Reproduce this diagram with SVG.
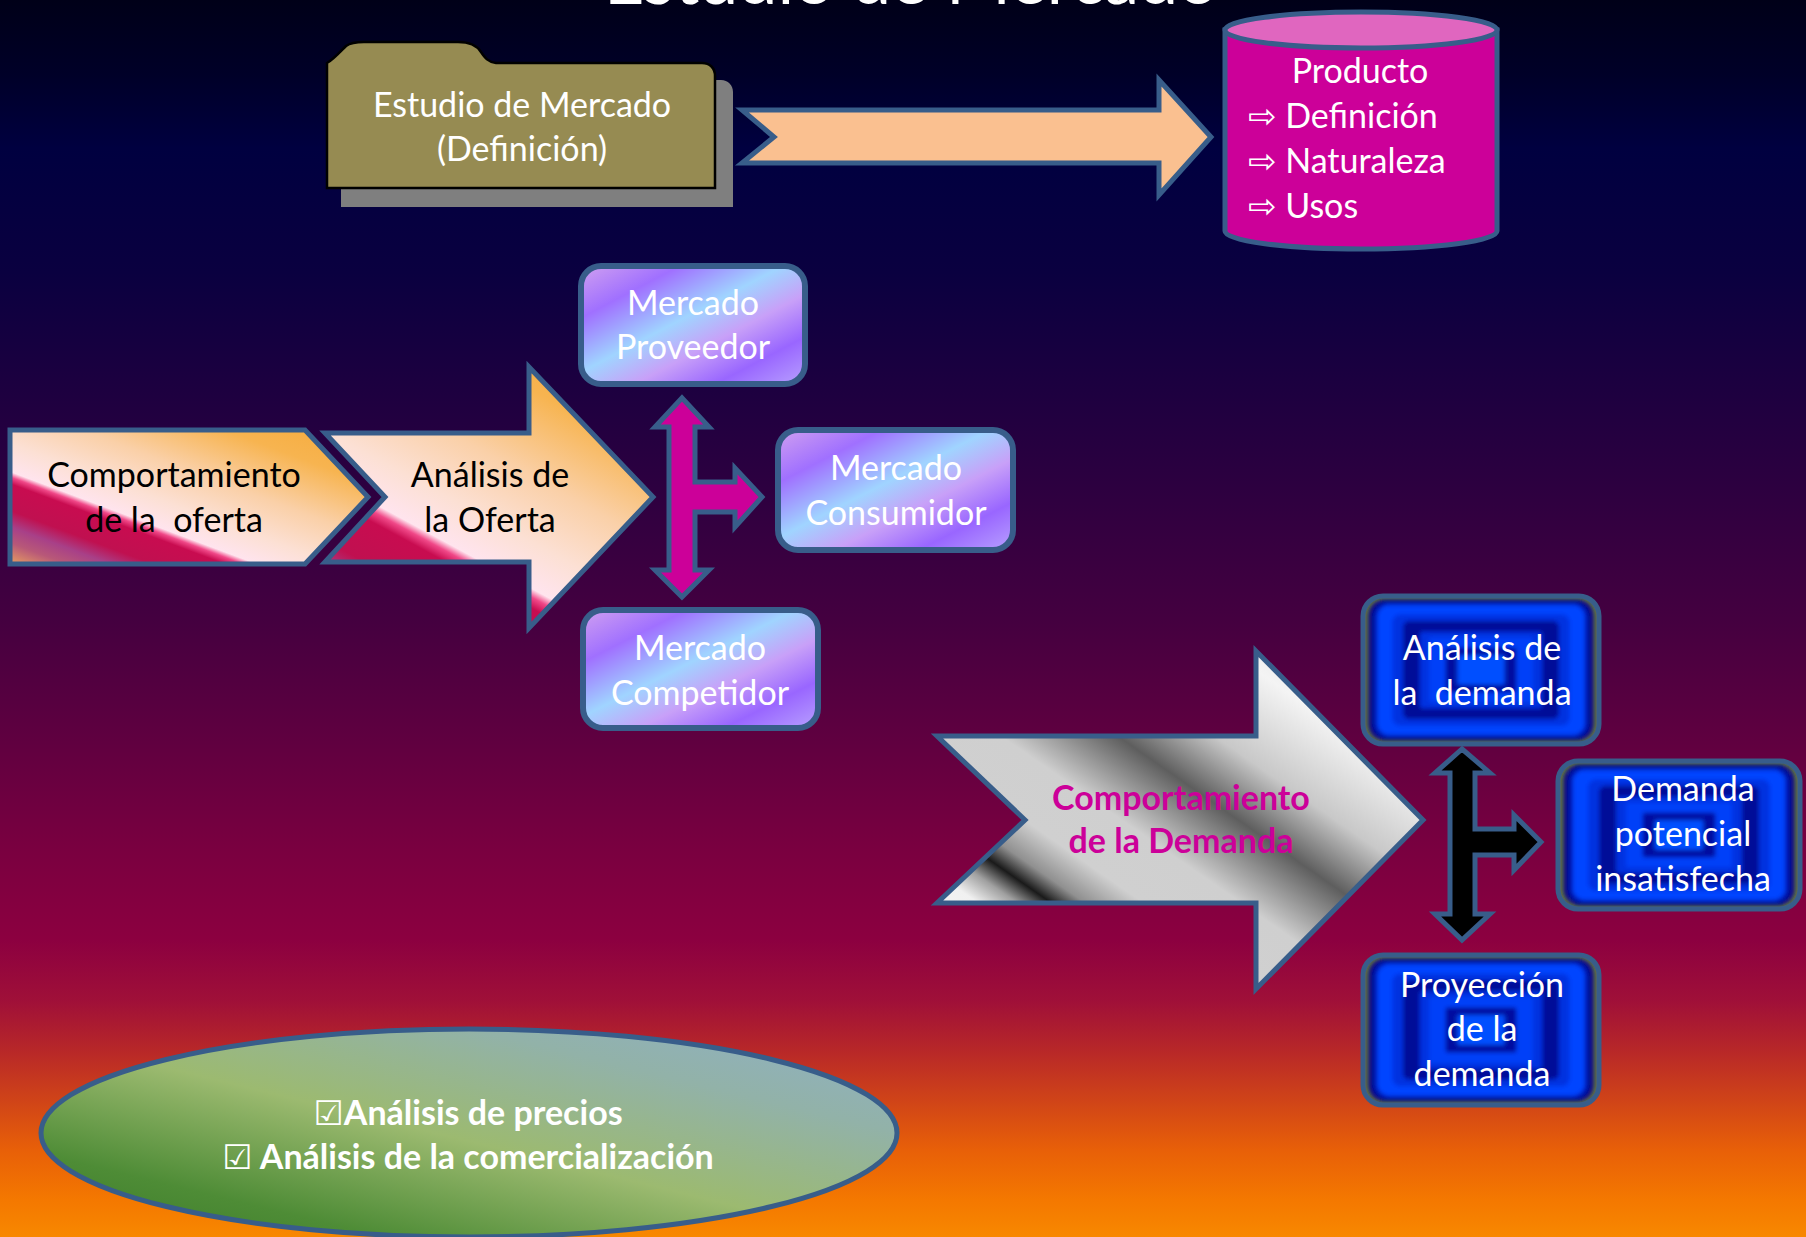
<svg xmlns="http://www.w3.org/2000/svg" width="1806" height="1237" viewBox="0 0 1806 1237">
  <defs>
    <style>
      text { font-family: Lato, "Open Sans", "DejaVu Sans", sans-serif; font-size: 34px; }
      .w { fill: #ffffff; }
      .k { fill: #000000; }
      .c { text-anchor: middle; }
      .b { font-weight: bold; }
      .edge { stroke: #385D8A; stroke-width: 5; stroke-linejoin: miter; }
      .purple { fill: url(#gPurple); stroke: #385D8A; stroke-width: 6; }
      .blue { fill: none; stroke: #385D8A; stroke-width: 5; }
    </style>

    <!-- page background, night blue fading to orange -->
    <linearGradient id="gBg" x1="0" y1="0" x2="0" y2="1">
      <stop offset="0" stop-color="#000018"/>
      <stop offset="0.06" stop-color="#000028"/>
      <stop offset="0.12" stop-color="#000040"/>
      <stop offset="0.22" stop-color="#0A0040"/>
      <stop offset="0.3" stop-color="#1A0040"/>
      <stop offset="0.4" stop-color="#2E0040"/>
      <stop offset="0.5" stop-color="#440040"/>
      <stop offset="0.6" stop-color="#600040"/>
      <stop offset="0.68" stop-color="#780040"/>
      <stop offset="0.76" stop-color="#8C0040"/>
      <stop offset="0.81" stop-color="#A01038"/>
      <stop offset="0.85" stop-color="#B82828"/>
      <stop offset="0.89" stop-color="#D04418"/>
      <stop offset="0.93" stop-color="#E86008"/>
      <stop offset="0.97" stop-color="#F47800"/>
      <stop offset="1" stop-color="#F88800"/>
    </linearGradient>

    <!-- crimson / pink / orange fill of the supply shapes -->
    <linearGradient id="gFire" x1="0" y1="1" x2="1" y2="0">
      <stop offset="0" stop-color="#E8A060"/>
      <stop offset="0.08" stop-color="#B85878"/>
      <stop offset="0.14" stop-color="#A84088"/>
      <stop offset="0.2" stop-color="#C01050"/>
      <stop offset="0.3" stop-color="#C80C50"/>
      <stop offset="0.325" stop-color="#F04888"/>
      <stop offset="0.345" stop-color="#FFE4EE"/>
      <stop offset="0.45" stop-color="#FCE0D4"/>
      <stop offset="0.6" stop-color="#FAD0A8"/>
      <stop offset="0.8" stop-color="#F7B450"/>
      <stop offset="1" stop-color="#F6AA3A"/>
    </linearGradient>
    <linearGradient id="gFire2" href="#gFire" gradientUnits="userSpaceOnUse" x1="325" y1="628" x2="508" y2="289"/>

    <!-- lavender / blue market boxes -->
    <linearGradient id="gPurple" x1="0" y1="0" x2="1" y2="1">
      <stop offset="0" stop-color="#D0A0F0"/>
      <stop offset="0.22" stop-color="#A070FF"/>
      <stop offset="0.45" stop-color="#A0D4FF"/>
      <stop offset="0.62" stop-color="#C8A0F8"/>
      <stop offset="0.8" stop-color="#9966FF"/>
      <stop offset="1" stop-color="#B8A0FF"/>
    </linearGradient>

    <!-- chrome fill of the demand arrow -->
    <linearGradient id="gChrome" x1="0" y1="1" x2="1" y2="0">
      <stop offset="0" stop-color="#FFFFFF"/>
      <stop offset="0.17" stop-color="#F0F0F0"/>
      <stop offset="0.21" stop-color="#A0A0A0"/>
      <stop offset="0.245" stop-color="#1A1A1A"/>
      <stop offset="0.28" stop-color="#909090"/>
      <stop offset="0.34" stop-color="#D0D0D0"/>
      <stop offset="0.44" stop-color="#CFCFCF"/>
      <stop offset="0.56" stop-color="#5E5E5E"/>
      <stop offset="0.66" stop-color="#C8C8C8"/>
      <stop offset="0.8" stop-color="#F4F4F4"/>
      <stop offset="1" stop-color="#D0D0D0"/>
    </linearGradient>

    <!-- green ellipse -->
    <linearGradient id="gGreen" x1="0" y1="1" x2="1" y2="0">
      <stop offset="0" stop-color="#3A7A28"/>
      <stop offset="0.2" stop-color="#4E8C36"/>
      <stop offset="0.48" stop-color="#9CBA70"/>
      <stop offset="0.75" stop-color="#92B2A8"/>
      <stop offset="1" stop-color="#8EB0C8"/>
    </linearGradient>

    <filter id="soft" x="-5%" y="-5%" width="110%" height="110%">
      <feGaussianBlur stdDeviation="2.2"/>
    </filter>
    <clipPath id="glowClip">
      <rect x="0" y="0" width="240" height="152" rx="20"/>
    </clipPath>

    <!-- rectangular glowing fill of the demand boxes -->
    <symbol id="glow" viewBox="0 0 240 152" preserveAspectRatio="none">
      <g clip-path="url(#glowClip)">
        <rect x="0" y="0" width="240" height="152" rx="20" fill="#73803A"/>
        <g filter="url(#soft)">
          <rect x="4.8" y="3" width="230.4" height="146" rx="17" fill="#0A1280"/>
          <rect x="9.6" y="6.1" width="220.8" height="139.8" rx="14" fill="#000CA8"/>
          <rect x="14.4" y="9.1" width="211.2" height="133.8" rx="12" fill="#0044FF"/>
          <rect x="30" y="19" width="180" height="114" rx="8" fill="#0030E0"/>
          <rect x="40.8" y="25.8" width="158.4" height="100.4" rx="6" fill="#000A98"/>
          <rect x="57.6" y="36.5" width="124.8" height="79" rx="4" fill="#0030E0"/>
          <rect x="67.2" y="42.6" width="105.6" height="66.8" rx="3" fill="#0040F8"/>
          <rect x="84" y="53.2" width="72" height="45.6" rx="2" fill="#000EA0"/>
          <rect x="96" y="60.8" width="48" height="30.4" rx="1" fill="#0050FF"/>
        </g>
      </g>
    </symbol>
  </defs>

  <rect x="0" y="0" width="1806" height="1237" fill="url(#gBg)"/>

  <!-- slide title, mostly above the top edge -->
  <text class="w c" x="911" y="4" style="font-size:70px">Estudio de Mercado</text>

  <!-- connectors -->
  <g id="connectors">
    <path id="arrow-definicion" class="edge" fill="#FAC090"
          d="M742,110 L1159,110 L1159,80 L1211,137 L1159,195 L1159,163 L742,163 L774,137 Z"/>
    <path id="cross-oferta" class="edge" fill="#CC0099" stroke-width="4"
          d="M682,398 L709,427 L695,427 L695,482 L735,482 L735,468 L762,497 L735,527 L735,512 L695,512 L695,570 L709,570 L682,597 L655,570 L669,570 L669,427 L655,427 Z"/>
    <path id="cross-demanda" class="edge" fill="#000000" stroke-width="4"
          d="M1462,749 L1490,773 L1475,773 L1475,829 L1514,829 L1514,815 L1541,842 L1514,870 L1514,855 L1475,855 L1475,914 L1490,914 L1462,940 L1435,914 L1450,914 L1450,773 L1435,773 Z"/>
  </g>

  <!-- folder -->
  <g id="estudio-mercado">
    <path d="M341,188 L341,207 L733,207 L733,92 C733,85 728,80 721,80 L715,80 L715,188 Z" fill="#7F7F7F"/>
    <path d="M327,188 L327,63 C333,60 340,52 346,46 C350,43 356,42 364,42 L458,42 C468,42 476,44 481,52 C485,58 488,62 496,63 L702,63 C710,63 715,68 715,76 L715,188 Z"
          fill="#968B52" stroke="#000000" stroke-width="2.5"/>
    <text class="w c" x="522" y="117">Estudio de Mercado</text>
    <text class="w c" x="522" y="161">(Definición)</text>
  </g>

  <!-- product cylinder -->
  <g id="producto">
    <path class="edge" fill="#CC0099" d="M1225,30 L1225,231 A136,18 0 0 0 1497,231 L1497,30 Z"/>
    <ellipse class="edge" cx="1361" cy="30" rx="136" ry="18" fill="#E066BF"/>
    <text class="w c" x="1360" y="83">Producto</text>
    <text class="w" x="1248" y="128">⇨ Definición</text>
    <text class="w" x="1248" y="173">⇨ Naturaleza</text>
    <text class="w" x="1248" y="218">⇨ Usos</text>
  </g>

  <!-- supply side -->
  <g id="comportamiento-oferta">
    <path class="edge" fill="url(#gFire)" d="M10,430 L305,430 L368,497 L305,564 L10,564 Z"/>
    <text class="k c" x="174" y="487">Comportamiento</text>
    <text class="k c" x="174" y="532" xml:space="preserve">de la  oferta</text>
  </g>

  <g id="analisis-oferta">
    <path class="edge" fill="url(#gFire2)" d="M325,433 L529,433 L529,367 L653,497 L529,628 L529,562 L325,562 L385,497 Z"/>
    <text class="k c" x="490" y="487">Análisis de</text>
    <text class="k c" x="490" y="532">la Oferta</text>
  </g>

  <g id="mercado-proveedor">
    <rect class="purple" x="581" y="266" width="224" height="118" rx="20"/>
    <text class="w c" x="693" y="315">Mercado</text>
    <text class="w c" x="693" y="359">Proveedor</text>
  </g>

  <g id="mercado-consumidor">
    <rect class="purple" x="778" y="430" width="235" height="120" rx="20"/>
    <text class="w c" x="896" y="480">Mercado</text>
    <text class="w c" x="896" y="525">Consumidor</text>
  </g>

  <g id="mercado-competidor">
    <rect class="purple" x="583" y="610" width="235" height="118" rx="20"/>
    <text class="w c" x="700" y="660">Mercado</text>
    <text class="w c" x="700" y="705">Competidor</text>
  </g>

  <!-- demand side -->
  <g id="comportamiento-demanda">
    <path class="edge" fill="url(#gChrome)" d="M937,736 L1256,736 L1256,651 L1423,820 L1256,989 L1256,903 L937,903 L1025,820 Z"/>
    <text class="c b" x="1181" y="810" fill="#CC0099">Comportamiento</text>
    <text class="c b" x="1181" y="853" fill="#CC0099">de la Demanda</text>
  </g>

  <g id="analisis-demanda">
    <use href="#glow" x="1363" y="596" width="236" height="148"/>
    <rect class="blue" x="1363" y="596" width="236" height="148" rx="20"/>
    <text class="w c" x="1482" y="660">Análisis de</text>
    <text class="w c" x="1482" y="705" xml:space="preserve">la  demanda</text>
  </g>

  <g id="demanda-insatisfecha">
    <use href="#glow" x="1558" y="761" width="242" height="148"/>
    <rect class="blue" x="1558" y="761" width="242" height="148" rx="20"/>
    <text class="w c" x="1683" y="801">Demanda</text>
    <text class="w c" x="1683" y="846">potencial</text>
    <text class="w c" x="1683" y="891">insatisfecha</text>
  </g>

  <g id="proyeccion-demanda">
    <use href="#glow" x="1363" y="955" width="236" height="150"/>
    <rect class="blue" x="1363" y="955" width="236" height="150" rx="20"/>
    <text class="w c" x="1482" y="997">Proyección</text>
    <text class="w c" x="1482" y="1041">de la</text>
    <text class="w c" x="1482" y="1086">demanda</text>
  </g>

  <!-- prices and commercialization -->
  <g id="precios-comercializacion">
    <ellipse class="edge" cx="469" cy="1133" rx="428" ry="104" fill="url(#gGreen)"/>
    <text class="w c b" x="468" y="1125">☑Análisis de precios</text>
    <text class="w c b" x="468" y="1169">☑ Análisis de la comercialización</text>
  </g>
</svg>
